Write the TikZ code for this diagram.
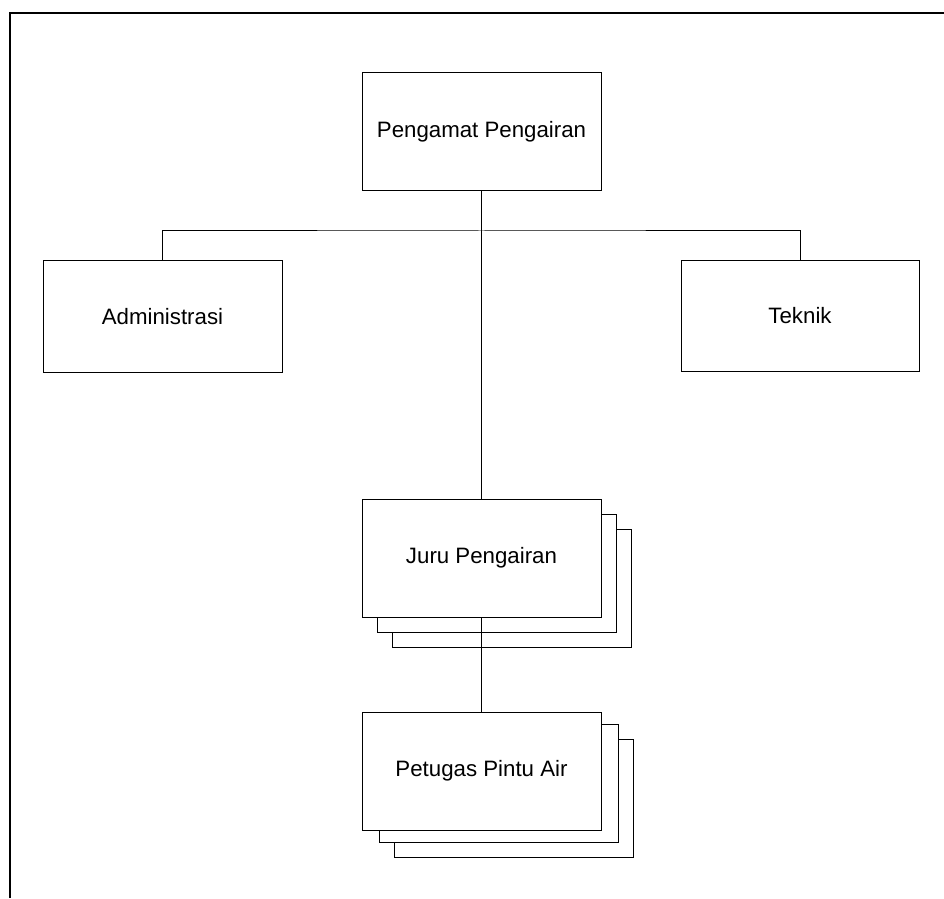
\documentclass[tikz,border=0pt]{standalone}
\usepackage{fontspec}
\setmainfont{Liberation Sans}
\begin{document}
\begin{tikzpicture}[x=0.75pt,y=-0.75pt,
  orgbox/.style={draw, line width=0.75pt, fill=white, inner sep=0pt,
    minimum width=179.25pt, minimum height=88.5pt,
    font=\fontsize{16.7}{20}\selectfont},
  link/.style={line width=0.75pt}]
\useasboundingbox (0,0) rectangle (944,898);
% frame
\draw[line width=1.5pt] (10,898) -- (10,13) -- (944,13);
% top
\node[orgbox] (peng) at (481.5,132) {Pengamat Pengairan};
% staff
\node[orgbox, minimum height=83.25pt] (adm) at (162.5,316.5) {Administrasi};
\node[orgbox, minimum width=178.5pt, minimum height=82.5pt] (tek) at (800,316) {Teknik};
% juru (stacked)
\node[orgbox] (jurutwo) at (511.5,588) {};
\node[orgbox] (juruone) at (496.5,573) {};
\node[orgbox] (juru) at (481.5,558) {Juru Pengairan};
% petugas (stacked)
\node[orgbox] (pettwo) at (513.5,798.5) {};
\node[orgbox] (petone) at (498.5,783.5) {};
\node[orgbox] (pet) at (481.5,771) {Petugas Pintu Air};
% connectors
\coordinate (hub) at (481.5,231);
\draw[link] (peng.south) -- (juru.north);
\draw[link] (adm.north) |- (hub) -| (tek.north);
\draw[link] (juru.south) -- (pet.north);
\end{tikzpicture}
\end{document}
